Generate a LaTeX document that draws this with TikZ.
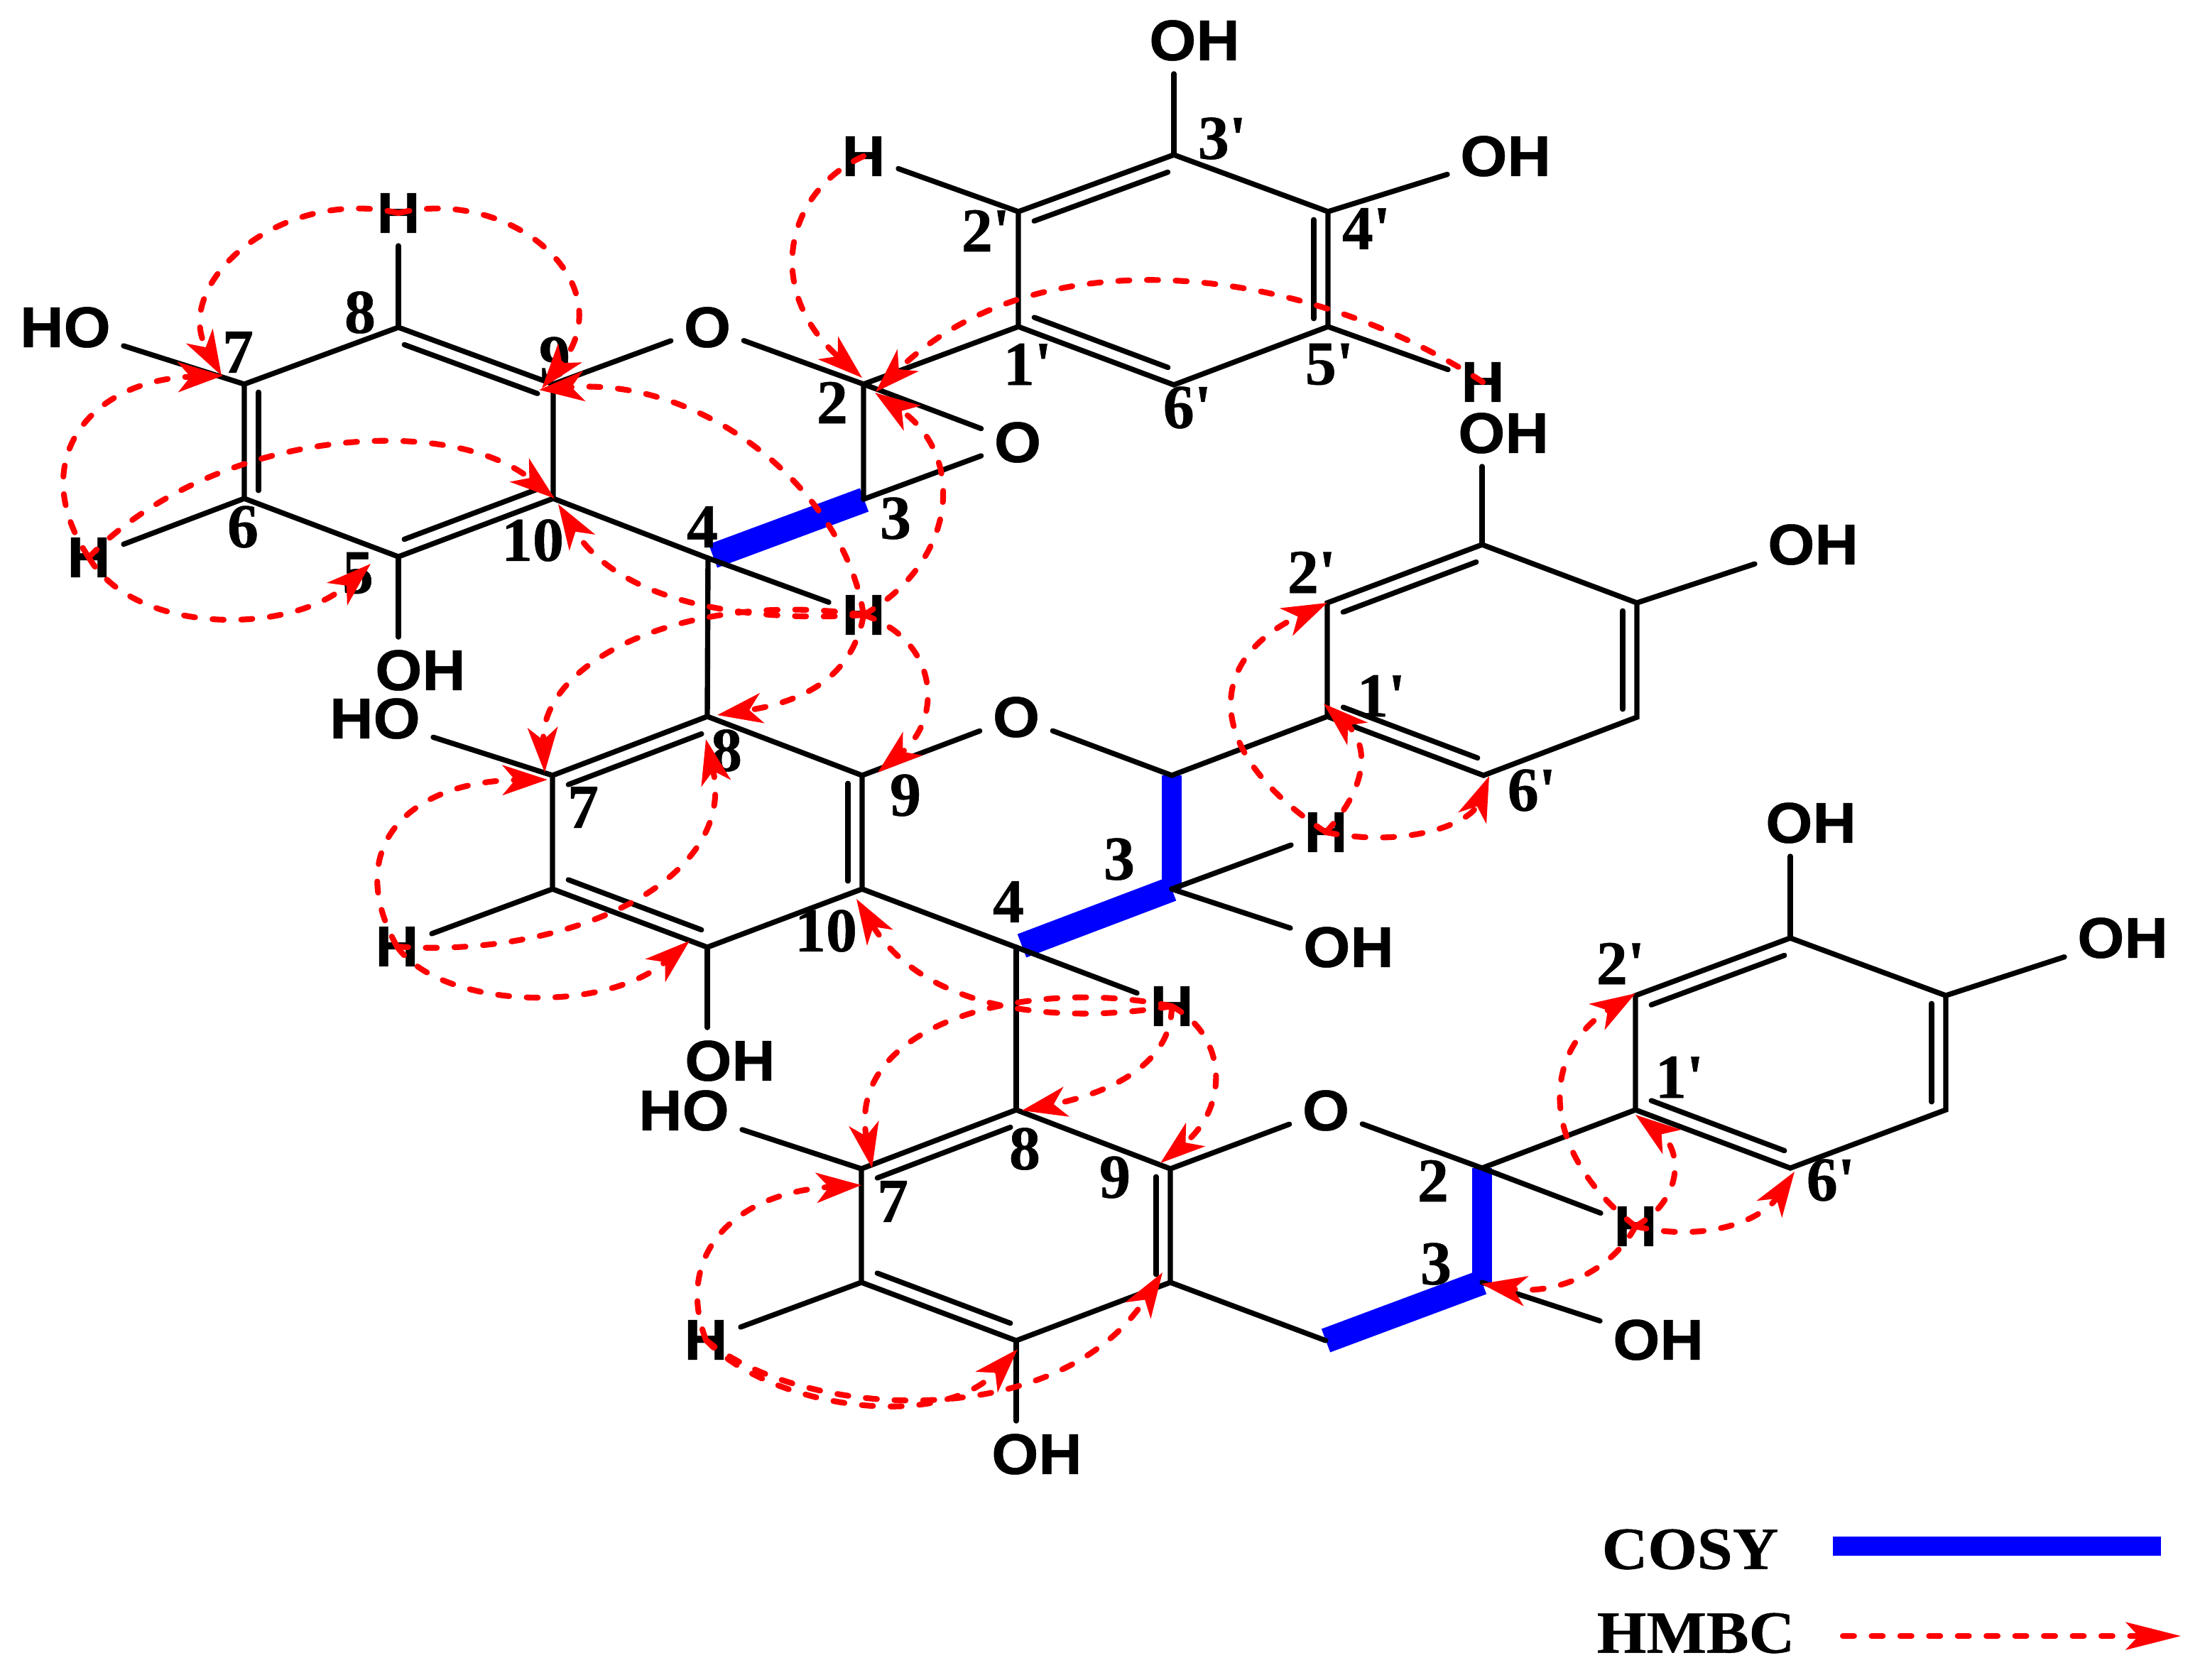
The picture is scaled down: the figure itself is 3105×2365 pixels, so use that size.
\documentclass[tikz,border=0pt]{standalone}
\usepackage{fontspec}
\setmainfont{Liberation Serif}
\newfontfamily\atomfont{Liberation Sans Bold}[FakeBold=0.6,FakeStretch=1.05]
\newfontfamily\numfont{Liberation Serif Bold}[FakeBold=0.6]
\newfontfamily\legendfont{Liberation Serif Bold}[FakeBold=0.5,FakeStretch=1.06]
\usetikzlibrary{arrows.meta,calc}
\newcommand{\prm}{\textquotesingle}
% inner line of a double bond
\newcommand{\dbond}[3]{\draw[bond] ($(#1)!.07!(#2)!5.7pt!#3:(#2)$) -- ($(#2)!.07!(#1)!5.7pt!-#3:(#1)$);}
\tikzset{
	bond/.style={line width=2.1pt, line cap=round},
	cosy/.style={line width=7.7pt, blue},
	cosywide/.style={line width=10pt, blue},
	hmbc/.style={line width=2.3pt, red, line cap=round, dash pattern=on 4.5pt off 7pt, -{Stealth[length=18pt,width=12pt,inset=5pt]}},
	atomtext/.style={font=\atomfont\fontsize{23pt}{23pt}\selectfont, inner sep=5pt},
	numtext/.style={font=\numfont\fontsize{25pt}{25pt}\selectfont, inner sep=0pt},
	legendtext/.style={font=\legendfont\fontsize{24pt}{24pt}\selectfont, inner sep=0pt}
}
\begin{document}
\begin{tikzpicture}[x=0.01cm, y=-0.01cm]
	\useasboundingbox (0,0) rectangle (3105,2365);
	% upper unit
	\coordinate (a7) at (344,541);
	\coordinate (a8) at (561,461);
	\coordinate (a9) at (779,541);
	\coordinate (a10) at (779,702);
	\coordinate (a5) at (561,784);
	\coordinate (a6) at (344,702);
	\coordinate (a4) at (997,786);
	\coordinate (a3) at (1216,703);
	\coordinate (a2) at (1216,541);
	\coordinate (ap1) at (1434,460);
	\coordinate (ap2) at (1434,298);
	\coordinate (ap3) at (1653,218);
	\coordinate (ap4) at (1870,298);
	\coordinate (ap5) at (1870,460);
	\coordinate (ap6) at (1653,542);
	% middle unit
	\coordinate (b8) at (996,1009);
	\coordinate (b7) at (778,1092);
	\coordinate (b9) at (1214,1092);
	\coordinate (b10) at (1214,1252);
	\coordinate (b5) at (996,1334);
	\coordinate (b6) at (778,1252);
	\coordinate (b4) at (1431,1334);
	\coordinate (b3) at (1650,1252);
	\coordinate (b2) at (1650,1092);
	\coordinate (bp1) at (1869,1009);
	\coordinate (bp2) at (1869,849);
	\coordinate (bp3) at (2087,767);
	\coordinate (bp4) at (2305,849);
	\coordinate (bp5) at (2305,1010);
	\coordinate (bp6) at (2089,1092);
	% lower unit
	\coordinate (c8) at (1431,1563);
	\coordinate (c7) at (1213,1646);
	\coordinate (c9) at (1648,1646);
	\coordinate (c10) at (1648,1806);
	\coordinate (c5) at (1431,1888);
	\coordinate (c6) at (1213,1806);
	\coordinate (c4) at (1867,1888);
	\coordinate (c3) at (2087,1806);
	\coordinate (c2) at (2087,1645);
	\coordinate (cp1) at (2303,1563);
	\coordinate (cp2) at (2303,1402);
	\coordinate (cp3) at (2521,1321);
	\coordinate (cp4) at (2740,1402);
	\coordinate (cp5) at (2740,1563);
	\coordinate (cp6) at (2521,1645);
	% atoms
	\node[atomtext] (ah8) at (561,300) {H};
	\node[atomtext] (aho7) at (92,461) {HO};
	\node[atomtext] (ah6) at (125,785) {H};
	\node[atomtext] (aoh5) at (592,944) {OH};
	\node[atomtext] (ao1) at (996,461) {O};
	\node[atomtext] (ao2) at (1433,623) {O};
	\node[atomtext] (ah4) at (1216,866) {H};
	\node[atomtext] (aph2) at (1216,220) {H};
	\node[atomtext] (apoh3) at (1682,57) {OH};
	\node[atomtext] (apoh4) at (2120,220) {OH};
	\node[atomtext] (aph5) at (2088,538) {H};
	\node[atomtext] (bho7) at (528,1012) {HO};
	\node[atomtext] (bh6) at (559,1333) {H};
	\node[atomtext] (boh5) at (1028,1494) {OH};
	\node[atomtext] (bo1) at (1431,1010) {O};
	\node[atomtext] (bh4) at (1650,1417) {H};
	\node[atomtext] (bh3) at (1867,1172) {H};
	\node[atomtext] (boh3) at (1899,1334) {OH};
	\node[atomtext] (bpoh3) at (2117,610) {OH};
	\node[atomtext] (bpoh4) at (2553,767) {OH};
	\node[atomtext] (cho7) at (963,1564) {HO};
	\node[atomtext] (ch6) at (994,1887) {H};
	\node[atomtext] (coh5) at (1460,2048) {OH};
	\node[atomtext] (co1) at (1867,1564) {O};
	\node[atomtext] (ch2) at (2303,1727) {H};
	\node[atomtext] (coh3) at (2335,1887) {OH};
	\node[atomtext] (cpoh3) at (2550,1159) {OH};
	\node[atomtext] (cpoh4) at (2989,1321) {OH};
	% COSY bonds
	\draw[cosywide] ($(a4)+(7,-3)$) -- ($(a3)+(1,1)$);
	\draw[cosy] (b2) -- (b3);
	\draw[cosywide] ($(b4)+(8,-2)$) -- (b3);
	\draw[cosy] (c2) -- (c3);
	\draw[cosywide] (c4) -- (c3);
	% upper unit bonds
	\draw[bond] (a7) -- (a8) -- (a9) -- (a10) -- (a5) -- (a6) -- (a7);
	\draw[bond] (a9) -- (ao1) -- (a2) -- (a3);
	\draw[bond] (a10) -- (a4);
	\draw[bond] (a4) -- (ah4);
	\draw[bond] (a4) -- (b8);
	\draw[bond] (a2) -- (ap1);
	\draw[bond] (a2) -- (ao2) -- (a3);
	\draw[bond] (a8) -- (ah8);
	\draw[bond] (a7) -- (aho7);
	\draw[bond] (a6) -- (ah6);
	\draw[bond] (a5) -- (a5 |- aoh5.north);
	\draw[bond] (ap1) -- (ap2) -- (ap3) -- (ap4) -- (ap5) -- (ap6) -- (ap1);
	\draw[bond] (ap2) -- (aph2);
	\draw[bond] (ap3) -- (ap3 |- apoh3.south);
	\draw[bond] (ap4) -- (apoh4);
	\draw[bond] (ap5) -- (aph5);
	\dbond{a8}{a9}{-90}
	\dbond{a5}{a10}{90}
	\dbond{a7}{a6}{90}
	\dbond{ap2}{ap3}{-90}
	\dbond{ap4}{ap5}{-90}
	\dbond{ap1}{ap6}{90}
	% middle unit bonds
	\draw[bond] (b7) -- (b8) -- (b9) -- (b10) -- (b5) -- (b6) -- (b7);
	\draw[bond] (b9) -- (bo1) -- (b2);
	\draw[bond] (b10) -- (b4);
	\draw[bond] (b4) -- (bh4);
	\draw[bond] (b4) -- (c8);
	\draw[bond] (b2) -- (bp1);
	\draw[bond] (b3) -- (bh3);
	\draw[bond] (b3) -- (boh3);
	\draw[bond] (b7) -- (bho7);
	\draw[bond] (b6) -- (bh6);
	\draw[bond] (b5) -- (b5 |- boh5.north);
	\draw[bond] (bp1) -- (bp2) -- (bp3) -- (bp4) -- (bp5) -- (bp6) -- (bp1);
	\draw[bond] (bp3) -- (bp3 |- bpoh3.south);
	\draw[bond] (bp4) -- (bpoh4);
	\dbond{b7}{b8}{-90}
	\dbond{b9}{b10}{-90}
	\dbond{b6}{b5}{90}
	\dbond{bp2}{bp3}{-90}
	\dbond{bp4}{bp5}{-90}
	\dbond{bp1}{bp6}{90}
	% lower unit bonds
	\draw[bond] (c7) -- (c8) -- (c9) -- (c10) -- (c5) -- (c6) -- (c7);
	\draw[bond] (c9) -- (co1) -- (c2);
	\draw[bond] (c10) -- (c4);
	\draw[bond] (c2) -- (cp1);
	\draw[bond] (c2) -- (ch2);
	\draw[bond] (c3) -- (coh3);
	\draw[bond] (c7) -- (cho7);
	\draw[bond] (c6) -- (ch6);
	\draw[bond] (c5) -- (c5 |- coh5.north);
	\draw[bond] (cp1) -- (cp2) -- (cp3) -- (cp4) -- (cp5) -- (cp6) -- (cp1);
	\draw[bond] (cp3) -- (cp3 |- cpoh3.south);
	\draw[bond] (cp4) -- (cpoh4);
	\dbond{c7}{c8}{-90}
	\dbond{c9}{c10}{-90}
	\dbond{c6}{c5}{90}
	\dbond{cp2}{cp3}{-90}
	\dbond{cp4}{cp5}{-90}
	\dbond{cp1}{cp6}{90}
	% numbering
	\node[numtext] (na7) at (335,496) {7};
	\node[numtext] (na8) at (507,440) {8};
	\node[numtext] (na9) at (781,504) {9};
	\node[numtext] (na2) at (1172,567) {2};
	\node[numtext] (na3) at (1261,730) {3};
	\node[numtext] (na4) at (989,742) {4};
	\node[numtext] (na10) at (750,761) {10};
	\node[numtext] (na5) at (504,807) {5};
	\node[numtext] (na6) at (342,742) {6};
	\node[numtext] (nap1) at (1447,513) {1\prm};
	\node[numtext] (nap2) at (1388,325) {2\prm};
	\node[numtext] (nap3) at (1721,195) {3\prm};
	\node[numtext] (nap4) at (1924,322) {4\prm};
	\node[numtext] (nap5) at (1872,513) {5\prm};
	\node[numtext] (nap6) at (1672,574) {6\prm};
	\node[numtext] (nb8) at (1023,1057) {8};
	\node[numtext] (nb7) at (821,1137) {7};
	\node[numtext] (nb9) at (1275,1120) {9};
	\node[numtext] (nb10) at (1163,1311) {10};
	\node[numtext] (nb3) at (1576,1210) {3};
	\node[numtext] (nb4) at (1420,1270) {4};
	\node[numtext] (nbp1) at (1945,980) {1\prm};
	\node[numtext] (nbp2) at (1847,806) {2\prm};
	\node[numtext] (nbp6) at (2157,1113) {6\prm};
	\node[numtext] (nc8) at (1443,1618) {8};
	\node[numtext] (nc9) at (1570,1658) {9};
	\node[numtext] (nc7) at (1257,1692) {7};
	\node[numtext] (nc2) at (2018,1663) {2};
	\node[numtext] (nc3) at (2022,1780) {3};
	\node[numtext] (ncp1) at (2365,1517) {1\prm};
	\node[numtext] (ncp2) at (2282,1357) {2\prm};
	\node[numtext] (ncp6) at (2578,1662) {6\prm};
	% HMBC arrows
	\draw[hmbc] (ah8.center) .. controls (395,262) and (240,400) .. ($(a7)+(-32,-12)$);
	\draw[hmbc] (ah8.center) .. controls (720,262) and (880,400) .. ($(a9)+(-16,6)$);
	\draw[hmbc] (ah6.center) .. controls (35,650) and (125,535) .. ($(a7)+(-30,-12)$);
	\draw[hmbc] (ah6.center) .. controls (300,605) and (630,580) .. ($(a10)+(2,0)$);
	\draw[hmbc] (ah6.center) .. controls (190,895) and (410,895) .. ($(a5)+(-39,10)$);
	\draw[hmbc] (ah4.center) .. controls (1190,690) and (990,530) .. ($(a9)+(-20,8)$);
	\draw[hmbc] (ah4.center) .. controls (1350,790) and (1360,640) .. ($(a2)+(16,12)$);
	\draw[hmbc] (ah4.center) .. controls (1080,875) and (880,860) .. ($(a10)+(7,8)$);
	\draw[hmbc] (ah4.center) .. controls (970,830) and (760,930) .. ($(b7)+(-11,-4)$);
	\draw[hmbc] (ah4.center) .. controls (1200,960) and (1120,990) .. ($(b8)+(14,-2)$);
	\draw[hmbc] (ah4.center) .. controls (1320,900) and (1330,1010) .. ($(b9)+(22,-4)$);
	\draw[hmbc] (aph2.center) .. controls (1105,270) and (1075,410) .. ($(a2)+(-2,-9)$);
	\draw[hmbc] (aph5.center) .. controls (1830,370) and (1460,330) .. ($(a2)+(17,11)$);
	\draw[hmbc] (bh6.center) .. controls (480,1190) and (580,1100) .. ($(b7)+(-7,6)$);
	\draw[hmbc] (bh6.center) .. controls (800,1350) and (1040,1240) .. ($(b8)+(-2,32)$);
	\draw[hmbc] (bh6.center) .. controls (620,1420) and (850,1430) .. ($(b5)+(-25,-9)$);
	\draw[hmbc] (bh3.center) .. controls (1695,1060) and (1695,930) .. (bp2);
	\draw[hmbc] (bh3.center) .. controls (1925,1110) and (1930,1050) .. ($(bp1)+(-5,-18)$);
	\draw[hmbc] (bh3.center) .. controls (1980,1195) and (2070,1160) .. ($(bp6)+(8,1)$);
	\draw[hmbc] (bh4.center) .. controls (1480,1445) and (1300,1420) .. ($(b10)+(-8,14)$);
	\draw[hmbc] (bh4.center) .. controls (1450,1375) and (1190,1440) .. ($(c7)+(15,-1)$);
	\draw[hmbc] (bh4.center) .. controls (1650,1500) and (1560,1540) .. ($(c8)+(8,1)$);
	\draw[hmbc] (bh4.center) .. controls (1730,1460) and (1730,1560) .. ($(c9)+(-14,-8)$);
	\draw[hmbc] (ch6.center) .. controls (950,1770) and (1030,1680) .. ($(c7)+(0,23)$);
	\draw[hmbc] (ch6.center) .. controls (1080,1980) and (1320,2020) .. ($(c5)+(2,12)$);
	\draw[hmbc] (ch6.center) .. controls (1130,2000) and (1490,2020) .. ($(c10)+(-11,-14)$);
	\draw[hmbc] (ch2.center) .. controls (2165,1620) and (2170,1480) .. ($(cp2)+(0,-3)$);
	\draw[hmbc] (ch2.center) .. controls (2370,1690) and (2370,1620) .. ($(cp1)+(0,7)$);
	\draw[hmbc] (ch2.center) .. controls (2400,1750) and (2480,1720) .. ($(cp6)+(6,5)$);
	\draw[hmbc] (ch2.center) .. controls (2270,1790) and (2190,1825) .. ($(c3)+(-1,2)$);
	% legend
	\node[legendtext] (cosylabel) at (2380,2182) {COSY};
	\node[legendtext] (hmbclabel) at (2388,2300) {HMBC};
	\coordinate (cosyl) at (2581,2177);
	\coordinate (cosyr) at (3043,2177);
	\coordinate (hmbcl) at (2595,2304);
	\coordinate (hmbcr) at (3071,2304);
	\draw[cosy] (cosyl) -- (cosyr);
	\draw[hmbc, -{Stealth[length=22pt,width=11pt,inset=5pt]}] (hmbcl) -- (hmbcr);
\end{tikzpicture}
\end{document}
